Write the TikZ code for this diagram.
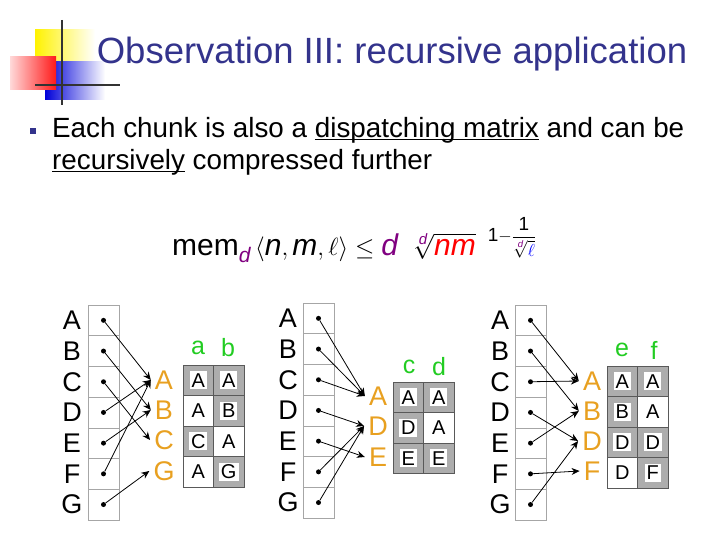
\documentclass[tikz,border=0pt]{standalone}
\usepackage{fontspec}
\setmainfont{Liberation Sans}
\usepackage{amsmath,amssymb}
\usetikzlibrary{arrows.meta}
\definecolor{titleblue}{HTML}{33338C}
\definecolor{orng}{HTML}{E8A020}
\definecolor{grn}{HTML}{22CC22}
\definecolor{purp}{HTML}{800080}
\newcommand\iv[1]{\text{\itshape #1}}
\newcommand\myul[1]{\setbox0\hbox{#1}\rlap{\rule[-3pt]{\wd0}{1.1pt}}\box0}
\begin{document}
\begin{tikzpicture}[x=1pt,y=-1pt,
  src/.style={font=\fontsize{27}{27}\selectfont,inner sep=0pt},
  tgt/.style={font=\fontsize{27}{27}\selectfont,text=orng,inner sep=0pt},
  hdr/.style={font=\fontsize{25}{25}\selectfont,text=grn,inner sep=0pt},
  cell/.style={font=\fontsize{20}{20}\selectfont,inner sep=2pt},
  shcell/.style={cell,fill=white},
  arr/.style={-{Stealth[length=8pt,width=7pt]},line width=0.8pt},
  dot/.style={circle,fill=black,inner sep=0pt,minimum size=5pt},
  colbox/.style={draw=gray!70,line width=0.6pt}]
\useasboundingbox (0,0) rectangle (720,540);
% logo
\shade[left color=yellow!90!orange,right color=white] (35,30) rectangle (95,62);
\shade[left color=blue!85!black,right color=white] (45,62) rectangle (105,100);
\shade[left color=red!15,right color=red!90] (10,57) rectangle (56,90);
\draw[line width=1.2pt,black!80] (62,20) -- (62,105);
\draw[line width=1.2pt,black!80] (35,85) -- (120,85);
\node[text=titleblue,font=\fontsize{36.5}{36.5}\selectfont] (title) at (392,54) {Observation III: recursive application};
\node[fill=titleblue,minimum size=6pt,inner sep=0pt] (bul) at (33,131) {};
\node[anchor=west,font=\fontsize{27.8}{27.8}\selectfont,inner sep=0pt] (l1) at (52,130) {Each chunk is also a \myul{dispatching matrix}\ and can be};
\node[anchor=west,font=\fontsize{27.8}{27.8}\selectfont,inner sep=0pt] (l2) at (52,162) {\myul{recursively}\ compressed further};
\node[font=\fontsize{30}{30}\selectfont,anchor=west,inner sep=0pt] (f) at (172,240)
 {$\text{mem}_{\textcolor{purp}{\iv{d}}}\left\langle \iv{n},\iv{m},\ell\right\rangle\le \textcolor{purp}{\iv{d}}\;\;\sqrt[\textcolor{purp}{\iv{d}}]{\textcolor{red}{\iv{nm}}}$\hspace{12pt}\raisebox{14pt}{\fontsize{19}{19}\selectfont 1$-\dfrac{\text{1}}{\sqrt[\textcolor{purp}{\iv{d}}]{\textcolor{blue}{\ell}}}$}};
\newcommand\mygroup[9]{%
 \foreach \L [count=\i] in {A,...,G}{
   \draw[colbox] (#3,{#4+(\i-1)*30.7}) rectangle (#3+31,{#4+\i*30.7});
   \node[src] (#1s\L) at (#2,{#4+(\i-0.5)*30.7}) {\L};
   \node[dot] (#1d\L) at (#3+15.5,{#4+(\i-0.5)*30.7}) {};
 }
 \foreach \N/\Y in {#6}{ \node[tgt] (#1t\N) at (#5,\Y) {\N}; }
 \foreach \a/\b in {#9}{ \draw[arr] (#1d\a) -- ([xshift=-4pt]#1t\b.west); }
}
\newcommand\mycell[5]{%
 \ifnum#5=1 \fill[black!32] (#2,#3) rectangle (#2+30.5,#3+30.5);
   \node[shcell] (#1) at (#2+15.25,#3+15.25) {#4};
 \else \node[cell] (#1) at (#2+15.25,#3+15.25) {#4};\fi
}
% group 1
\mygroup{a}{72}{88}{305}{164}{A/380,B/410,C/440,G/471}{183}{364}{A/A,B/B,C/C,D/A,E/B,F/A,G/G}
\node[hdr] (ha) at (198,348) {a}; \node[hdr] (hb) at (228,348) {b};
\mycell{a11}{183}{365}{A}{1}\mycell{a12}{213.5}{365}{A}{1}
\mycell{a21}{183}{395.5}{A}{0}\mycell{a22}{213.5}{395.5}{B}{1}
\mycell{a31}{183}{426}{C}{1}\mycell{a32}{213.5}{426}{A}{0}
\mycell{a41}{183}{456.5}{A}{0}\mycell{a42}{213.5}{456.5}{G}{1}
\draw[black!65,line width=0.6pt] (183,365) rectangle (244,487);
\foreach \yy in {395.5,426,456.5} \draw[black!65,line width=0.6pt] (183,\yy) -- (244,\yy);
\draw[black!65,line width=0.6pt] (213.5,365) -- (213.5,487);
% group 2
\mygroup{b}{288}{303}{303}{378}{A/396,D/426,E/457}{393}{382}{A/A,B/A,C/A,D/D,E/E,F/D,G/D}
\node[hdr] (hc) at (409,367) {c}; \node[hdr] (hd) at (439,367) {d};
\mycell{b11}{393}{382}{A}{1}\mycell{b12}{423.5}{382}{A}{1}
\mycell{b21}{393}{412.5}{D}{1}\mycell{b22}{423.5}{412.5}{A}{0}
\mycell{b31}{393}{443}{E}{1}\mycell{b32}{423.5}{443}{E}{1}
\draw[black!65,line width=0.6pt] (393,382) rectangle (454,473.5);
\foreach \yy in {412.5,443} \draw[black!65,line width=0.6pt] (393,\yy) -- (454,\yy);
\draw[black!65,line width=0.6pt] (423.5,382) -- (423.5,473.5);
% group 3
\mygroup{c}{500}{515}{305}{592}{A/381,B/411,D/441,F/471}{607}{366}{A/A,B/B,C/A,D/D,E/B,F/F,G/D}
\node[hdr] (he) at (622,350) {e}; \node[hdr] (hf) at (654,350) {f};
\mycell{c11}{607}{366}{A}{1}\mycell{c12}{637.5}{366}{A}{1}
\mycell{c21}{607}{396.5}{B}{1}\mycell{c22}{637.5}{396.5}{A}{0}
\mycell{c31}{607}{427}{D}{1}\mycell{c32}{637.5}{427}{D}{1}
\mycell{c41}{607}{457.5}{D}{0}\mycell{c42}{637.5}{457.5}{F}{1}
\draw[black!65,line width=0.6pt] (607,366) rectangle (668,488);
\foreach \yy in {396.5,427,457.5} \draw[black!65,line width=0.6pt] (607,\yy) -- (668,\yy);
\draw[black!65,line width=0.6pt] (637.5,366) -- (637.5,488);
\end{tikzpicture}
\end{document}
